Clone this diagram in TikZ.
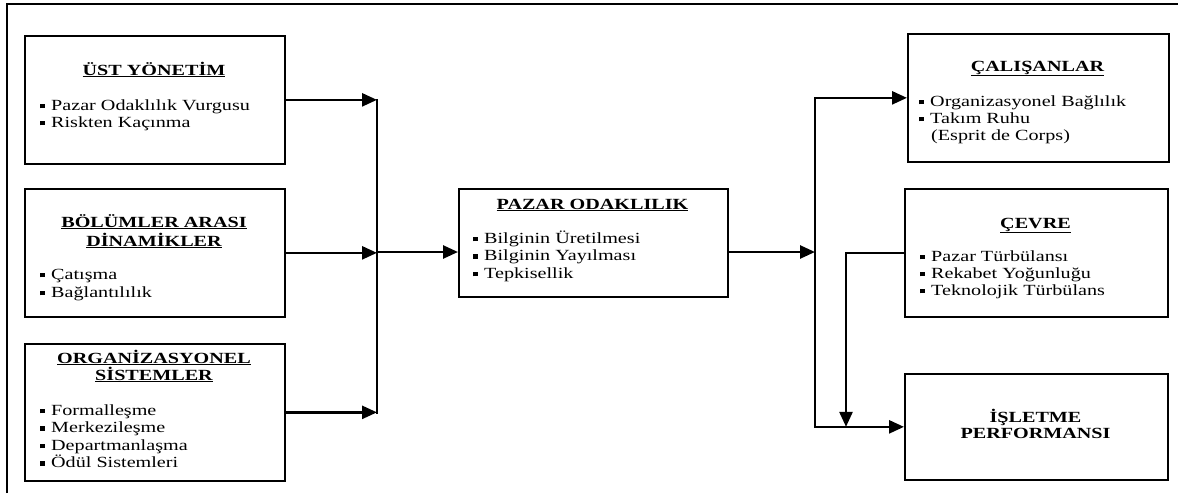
\documentclass[tikz,border=0pt]{standalone}
\usepackage{fontspec}
\usepackage{graphicx}
\setmainfont{Liberation Serif}
\usetikzlibrary{arrows.meta}

% wide setting of the text, as in the printed figure
\newcommand\wide[1]{\scalebox{1.3}[1]{#1}}
% small square bullet used in the item lists
\newcommand\sqbul{\makebox[11pt][l]{\raisebox{1.7pt}{\rule{4.6pt}{4.6pt}}}}

\begin{document}
\begin{tikzpicture}[x=1pt,y=-1pt,
  box/.style={draw, line width=1.7pt, inner sep=0pt, anchor=north west},
  frame/.style={line width=2.8pt},
  conn/.style={line width=2.6pt},
  arr/.style={conn, -{Triangle[length=15pt,width=13pt]}},
  ttl/.style={font=\fontsize{15.5}{17}\selectfont\bfseries, anchor=base, inner sep=0pt},
  itm/.style={font=\fontsize{15.5}{17}\selectfont, anchor=base west, inner sep=0pt}]
\useasboundingbox (0,0) rectangle (1178,493);

% outer frame (top and left edges)
\draw[frame] (7,493) -- (7,4) -- (1178,4);

% boxes
\node[box, minimum width=260pt, minimum height=128pt] (ust) at (24,35) {};
\node[box, minimum width=260pt, minimum height=128pt] (bol) at (24,188) {};
\node[box, minimum width=260pt, minimum height=137pt] (org) at (24,343) {};
\node[box, minimum width=269pt, minimum height=108pt] (paz) at (458,188) {};
\node[box, minimum width=261pt, minimum height=128pt] (cal) at (907,33) {};
\node[box, minimum width=263pt, minimum height=128pt] (cev) at (904,188) {};
\node[box, minimum width=263pt, minimum height=106pt] (isl) at (904,373) {};

% titles
\node[ttl] (ust-t) at (154,75) {\wide{\underline{ÜST YÖNETİM}}};
\node[ttl] (bol-t1) at (154,227) {\wide{\underline{BÖLÜMLER ARASI}}};
\node[ttl] (bol-t2) at (154,246) {\wide{\underline{DİNAMİKLER}}};
\node[ttl] (org-t1) at (154,363) {\wide{\underline{ORGANİZASYONEL}}};
\node[ttl] (org-t2) at (154,380) {\wide{\underline{SİSTEMLER}}};
\node[ttl] (paz-t) at (592.5,209) {\wide{\underline{PAZAR ODAKLILIK}}};
\node[ttl] (cal-t) at (1037.5,71) {\wide{\underline{ÇALIŞANLAR}}};
\node[ttl] (cev-t) at (1035.5,228) {\wide{\underline{ÇEVRE}}};
\node[ttl] (isl-t1) at (1035.5,422) {\wide{İŞLETME}};
\node[ttl] (isl-t2) at (1035.5,438) {\wide{PERFORMANSI}};

% item lists
\node[itm] (ust-1) at (40,110) {\sqbul\wide{Pazar Odaklılık Vurgusu}};
\node[itm] (ust-2) at (40,127) {\sqbul\wide{Riskten Kaçınma}};
\node[itm] (bol-1) at (40,279) {\sqbul\wide{Çatışma}};
\node[itm] (bol-2) at (40,297) {\sqbul\wide{Bağlantılılık}};
\node[itm] (org-1) at (40,415) {\sqbul\wide{Formalleşme}};
\node[itm] (org-2) at (40,432.5) {\sqbul\wide{Merkezileşme}};
\node[itm] (org-3) at (40,450) {\sqbul\wide{Departmanlaşma}};
\node[itm] (org-4) at (40,467.5) {\sqbul\wide{Ödül Sistemleri}};
\node[itm] (paz-1) at (473,243) {\sqbul\wide{Bilginin Üretilmesi}};
\node[itm] (paz-2) at (473,260.5) {\sqbul\wide{Bilginin Yayılması}};
\node[itm] (paz-3) at (473,278) {\sqbul\wide{Tepkisellik}};
\node[itm] (cal-1) at (919,106) {\sqbul\wide{Organizasyonel Bağlılık}};
\node[itm] (cal-2) at (919,123) {\sqbul\wide{Takım Ruhu}};
\node[itm] (cal-3) at (919,140) {\hspace{12pt}\wide{(Esprit de Corps)}};
\node[itm] (cev-1) at (920,261) {\sqbul\wide{Pazar Türbülansı}};
\node[itm] (cev-2) at (920,278) {\sqbul\wide{Rekabet Yoğunluğu}};
\node[itm] (cev-3) at (920,295) {\sqbul\wide{Teknolojik Türbülans}};

% junction points
\coordinate (jl) at (377,252);
\coordinate (jr) at (815,252);
\coordinate (jc) at (846,252);

% inputs to market orientation
\draw[arr] (ust.east) -- (ust.east -| jl);
\draw[arr] (bol.east) -- (bol.east -| jl);
\draw[arr] (org.east) -- (org.east -| jl);
\draw[conn, line cap=rect] (ust.east -| jl) -- (org.east -| jl);
\draw[arr] (jl) -- (jl -| paz.west);

% outputs of market orientation
\draw[arr] (paz.east |- jr) -- (jr);
\draw[arr] (jr) |- (cal.west);
\draw[arr] (jr) |- (isl.west);
\draw[arr] (cev.west) -| (jc |- isl.west);
\end{tikzpicture}
\end{document}
